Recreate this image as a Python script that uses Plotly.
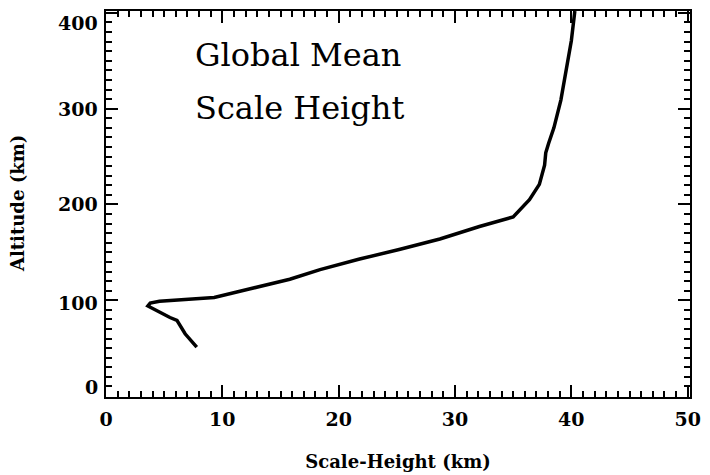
import plotly.graph_objects as go

scale_height = [7.8, 6.8, 6.1, 5.5, 3.6, 3.8, 4.6, 8.4, 9.3, 12.4, 15.8, 18.4, 21.8, 25.2, 28.7, 32.1, 35.0,
                36.4, 37.25, 37.7, 37.8, 38.05, 38.5, 39.1, 39.3, 39.7, 40.0, 40.3]
altitude = [51, 65, 79, 82, 94, 97, 99, 102, 103, 112, 122, 132, 143, 153, 164, 177, 187,
            205, 221, 241, 254, 264, 280, 309, 323, 350, 371, 402]
y_tick_values = [0, 100, 200, 300, 400]
y_tick_labels = ["0", "100", "200", "300", "400"]

FONT = "DejaVu Serif"
TICKFONT = dict(family=FONT, size=19, color="black", weight="bold")

fig = go.Figure()
fig.add_trace(go.Scatter(x=scale_height, y=altitude, mode="lines",
                         line=dict(color="black", width=3.5), showlegend=False))

axis_common = dict(showgrid=False, zeroline=False, showline=True, linecolor="black", linewidth=1.5,
                   mirror="allticks", ticks="inside", tickcolor="black", tickwidth=1.5, automargin=False,
                   ticklabeloverflow="allow", tickfont=TICKFONT)
fig.update_xaxes(range=[0, 50.2], dtick=10, ticklen=12, ticklabelstandoff=4,
                 minor=dict(dtick=1, ticks="inside", ticklen=6, tickcolor="black", tickwidth=1.5),
                 title=dict(text="Scale-Height (km)", font=dict(family=FONT, size=18, color="black", weight="bold"), standoff=27),
                 **axis_common)
fig.update_yaxes(range=[-1, 402], tickmode="array", tickvals=y_tick_values, ticklen=12, showticklabels=False,
                 minor=dict(dtick=10, ticks="inside", ticklen=6, tickcolor="black", tickwidth=1.5),
                 **axis_common)

# y tick labels, placed as the original IDL plot does (end labels nudged inside the frame)
label_nudge = {0: 9, 100: -3, 200: 0, 300: 0, 400: -10}
for v, lab in zip(y_tick_values, y_tick_labels):
    fig.add_annotation(text=lab, xref="paper", yref="y", x=0, y=v, xanchor="right", yanchor="middle",
                       xshift=-6, yshift=label_nudge[v], showarrow=False, font=TICKFONT)

fig.add_annotation(text="Altitude (km)", xref="paper", yref="paper", x=0, y=0.5, xanchor="center",
                   yanchor="middle", xshift=-89, textangle=-90, showarrow=False,
                   font=dict(family=FONT, size=18, color="black", weight="bold"))

fig.add_annotation(text="Global Mean", xref="x", yref="y", x=7.5, y=356, xanchor="left", yanchor="middle",
                   showarrow=False, font=dict(family=FONT, size=32, color="black"))
fig.add_annotation(text="Scale Height", xref="x", yref="y", x=7.5, y=301, xanchor="left", yanchor="middle",
                   showarrow=False, font=dict(family=FONT, size=32, color="black"))

fig.update_layout(width=710, height=475, margin=dict(l=98, r=28, t=3, b=86),
                  plot_bgcolor="white", paper_bgcolor="white")
fig.write_html("out.html")
